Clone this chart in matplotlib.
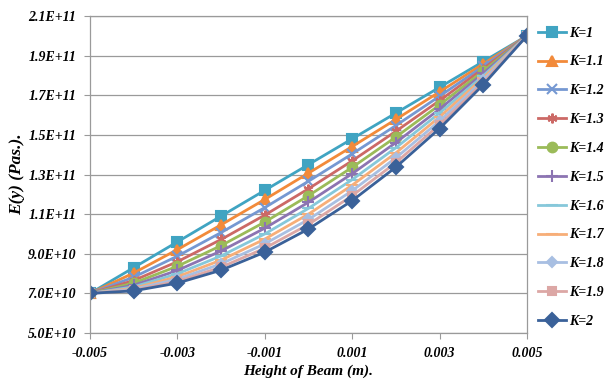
import matplotlib.pyplot as plt
from matplotlib.ticker import FixedLocator

# x positions (height of beam, m)
altura = [-0.005, -0.004, -0.003, -0.002, -0.001, 0.0, 0.001, 0.002, 0.003, 0.004, 0.005]

# E(y) values, in units of 1E+10 Pa
e_k1 = [7.0, 8.30, 9.60, 10.90, 12.20, 13.50, 14.80, 16.10, 17.40, 18.70, 20.0]
e_k11 = [7.0, 8.03, 9.21, 10.46, 11.74, 13.07, 14.41, 15.78, 17.17, 18.58, 20.0]
e_k12 = [7.0, 7.82, 8.88, 10.07, 11.33, 12.66, 14.04, 15.47, 16.95, 18.46, 20.0]
e_k13 = [7.0, 7.65, 8.60, 9.72, 10.95, 12.28, 13.69, 15.18, 16.73, 18.34, 20.0]
e_k14 = [7.0, 7.52, 8.37, 9.41, 10.60, 11.93, 13.36, 14.89, 16.51, 18.22, 20.0]
e_k15 = [7.0, 7.41, 8.16, 9.14, 10.29, 11.60, 13.04, 14.61, 16.30, 18.10, 20.0]
e_k16 = [7.0, 7.33, 7.99, 8.89, 10.00, 11.29, 12.74, 14.35, 16.10, 17.98, 20.0]
e_k17 = [7.0, 7.26, 7.84, 8.68, 9.74, 11.00, 12.46, 14.09, 15.90, 17.87, 20.0]
e_k18 = [7.0, 7.21, 7.72, 8.49, 9.50, 10.73, 12.18, 13.84, 15.70, 17.76, 20.0]
e_k19 = [7.0, 7.16, 7.61, 8.32, 9.28, 10.48, 11.93, 13.60, 15.51, 17.64, 20.0]
e_k2 = [7.0, 7.13, 7.52, 8.17, 9.08, 10.25, 11.68, 13.37, 15.32, 17.53, 20.0]

series = [e_k1, e_k11, e_k12, e_k13, e_k14, e_k15, e_k16, e_k17, e_k18, e_k19, e_k2]
rotulos = ['K=1', 'K=1.1', 'K=1.2', 'K=1.3', 'K=1.4', 'K=1.5',
           'K=1.6', 'K=1.7', 'K=1.8', 'K=1.9', 'K=2']

y_ticks = [5.0, 7.0, 9.0, 11.0, 13.0, 15.0, 17.0, 19.0, 21.0]
y_tick_labels = ['5.0E+10', '7.0E+10', '9.0E+10', '1.1E+11', '1.3E+11',
                 '1.5E+11', '1.7E+11', '1.9E+11', '2.1E+11']
x_ticks = [-0.005, -0.003, -0.001, 0.001, 0.003, 0.005]
x_tick_labels = ['-0.005', '-0.003', '-0.001', '0.001', '0.003', '0.005']

cores = ['#40A4C2', '#F28A3A', '#7598D2', '#CC6966', '#9BBB59', '#8C74B2',
         '#86C8DA', '#F7AE78', '#A8BFE2', '#DCA7A5', '#3A6199']
marcadores = ['s', '^', 'x', (6, 2, 0), 'o', '+', '_', '_', 'D', 's', 'D']
tamanhos = [7, 7, 7, 7, 7, 8, 8, 8, 5, 6, 7]

plt.rcParams['font.family'] = ['Liberation Serif', 'DejaVu Serif']
fonte = dict(fontweight='bold', fontstyle='italic')

fig = plt.figure(figsize=(6.06, 3.85), dpi=100)
ax = fig.add_axes([0.1485, 0.135, 0.721, 0.8235])

for vals, lab, c, m, s in zip(series, rotulos, cores, marcadores, tamanhos):
    ax.plot(altura, vals, color=c, marker=m, markersize=s, linewidth=2,
            markeredgewidth=1.5, label=lab)

ax.set_xlim(-0.005, 0.005)
ax.set_ylim(5.0, 21.0)
ax.yaxis.set_major_locator(FixedLocator(y_ticks))
ax.set_yticklabels(y_tick_labels, **fonte, fontsize=10)
ax.xaxis.set_major_locator(FixedLocator(x_ticks))
ax.set_xticklabels(x_tick_labels, **fonte, fontsize=10)
ax.tick_params(axis='both', direction='out', length=4, color='#9A9A9A', pad=6)
ax.grid(axis='y', color='#9A9A9A', linewidth=0.9)
ax.set_axisbelow(True)
for sp in ax.spines.values():
    sp.set_color('#9A9A9A')
    sp.set_linewidth(0.9)

ax.set_xlabel('Height of Beam (m).', fontsize=11, labelpad=3, **fonte)
ax.set_ylabel('E(y) (Pas.).', fontsize=12.5, labelpad=2, **fonte)

leg = ax.legend(loc='upper left', bbox_to_anchor=(1.013, 0.984), frameon=False,
                prop={'family': 'Liberation Serif', 'weight': 'bold',
                      'style': 'italic', 'size': 10},
                handlelength=2.0, handletextpad=0.25, labelspacing=1.14,
                borderaxespad=0.0)

fig.savefig('out.png', dpi=100)
